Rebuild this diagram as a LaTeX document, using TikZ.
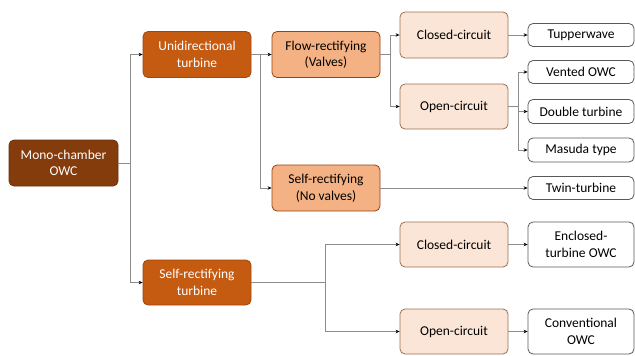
\documentclass[tikz,border=0pt]{standalone}
\usepackage{fontspec}
\setmainfont{Carlito}
\usetikzlibrary{arrows.meta}
\definecolor{darkbrown}{HTML}{843C0C}
\definecolor{rust}{HTML}{C55A11}
\definecolor{peach}{HTML}{F4B183}
\definecolor{cream}{HTML}{FBE5D6}
\definecolor{wire}{HTML}{8C8C8C}
\tikzset{
  box/.style={rounded corners=5pt, align=center, inner sep=1pt, line width=0.8pt,
    font=\fontsize{13.5}{16.5}\selectfont},
  lvlzero/.style={box, fill=darkbrown, draw=darkbrown!80!black, text=white,
    minimum width=109pt, minimum height=46pt},
  lvlone/.style={box, fill=rust, draw=rust!80!black, text=white,
    minimum width=108pt, minimum height=46pt},
  lvltwo/.style={box, fill=peach, draw=rust!75!black, text=black,
    minimum width=108pt, minimum height=46pt},
  lvlthree/.style={box, fill=cream, draw=rust!40!gray, text=black,
    minimum width=108pt, minimum height=45pt},
  leaf/.style={box, fill=white, draw=black!65, text=black,
    minimum width=106pt, minimum height=23pt},
  link/.style={draw=wire, line width=0.8pt, -{Stealth[length=4pt,width=3.5pt,color=black]}}
}
\begin{document}
\begin{tikzpicture}[x=1pt,y=-1pt]
\useasboundingbox (0,0) rectangle (635,356);
% first and second levels
\node[lvlzero] (mono) at (63.5,163) {Mono-chamber\\OWC};
\node[lvlone] (uni) at (197,54.5) {Unidirectional\\turbine};
\node[lvlone, minimum height=45pt] (selft) at (197,282.5) {Self-rectifying\\turbine};
% rectification type
\node[lvltwo] (flow) at (326,54.5) {Flow-rectifying\\(Valves)};
\node[lvltwo] (selfnv) at (326,188) {Self-rectifying\\(No valves)};
% circuit type
\node[lvlthree, minimum height=46pt] (cc1) at (454,35) {Closed-circuit};
\node[lvlthree] (oc1) at (454,106.5) {Open-circuit};
\node[lvlthree] (cc2) at (454,244.5) {Closed-circuit};
\node[lvlthree] (oc2) at (454,331.5) {Open-circuit};
% devices
\node[leaf] (tup) at (581,35) {Tupperwave};
\node[leaf] (vent) at (581,72) {Vented OWC};
\node[leaf, minimum height=24pt] (dbl) at (581,111.5) {Double turbine};
\node[leaf, minimum height=24pt] (mas) at (581,150) {Masuda type};
\node[leaf] (twin) at (581,188) {Twin-turbine};
\node[leaf, minimum height=45pt] (enc) at (581,244.5) {Enclosed-\\turbine OWC};
\node[leaf, minimum height=45pt] (conv) at (581,331.5) {Conventional\\OWC};
% connectors
\coordinate (j0) at (130,163);
\coordinate (j1) at (260,54.5);
\coordinate (j2) at (390,54.5);
\coordinate (j3) at (518,106.5);
\coordinate (j4) at (325,282.5);
\draw[link] (mono.east) -- (j0) |- (uni.west);
\draw[link] (j0) |- (selft.west);
\draw[link] (uni.east) -- (j1) |- (flow.west);
\draw[link] (j1) |- (selfnv.west);
\draw[link] (flow.east) -- (j2) |- (cc1.west);
\draw[link] (j2) |- (oc1.west);
\draw[link] (cc1.east) -- (tup.west);
\draw[link] (oc1.east) -- (j3) |- (vent.west);
\draw[link] (j3) |- (dbl.west);
\draw[link] (j3) |- (mas.west);
\draw[link] (selfnv.east) -- (twin.west);
\draw[link] (selft.east) -- (j4) |- (cc2.west);
\draw[link] (j4) |- (oc2.west);
\draw[link] (cc2.east) -- (enc.west);
\draw[link] (oc2.east) -- (conv.west);
\end{tikzpicture}
\end{document}
